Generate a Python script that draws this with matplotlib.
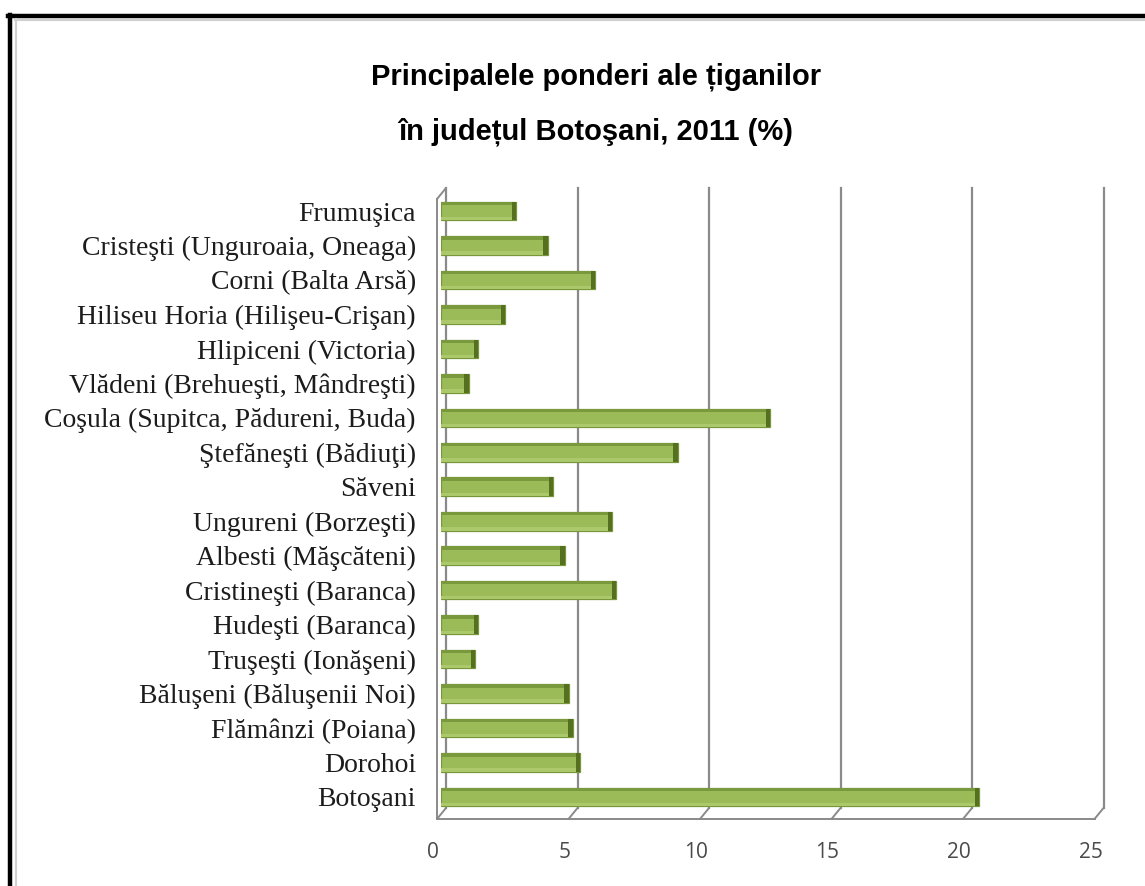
import matplotlib
matplotlib.use("Agg")
import matplotlib.pyplot as plt
from matplotlib import transforms
from matplotlib.lines import Line2D

# ---- data (top to bottom as shown) ----
categories = [
    "Frumuşica",
    "Cristeşti (Unguroaia, Oneaga)",
    "Corni (Balta Arsă)",
    "Hiliseu Horia (Hilişeu-Crişan)",
    "Hlipiceni (Victoria)",
    "Vlădeni (Brehueşti, Mândreşti)",
    "Coşula (Supitca, Pădureni, Buda)",
    "Ştefăneşti (Bădiuţi)",
    "Săveni",
    "Ungureni (Borzeşti)",
    "Albesti (Măşcăteni)",
    "Cristineşti (Baranca)",
    "Hudeşti (Baranca)",
    "Truşeşti (Ionăşeni)",
    "Băluşeni (Băluşenii Noi)",
    "Flămânzi (Poiana)",
    "Dorohoi",
    "Botoşani",
]
values = [2.85, 4.05, 5.85, 2.45, 1.42, 1.05, 12.5, 9.0, 4.25, 6.5,
          4.7, 6.65, 1.42, 1.3, 4.85, 5.0, 5.3, 20.45]
xticks = [0, 5, 10, 15, 20, 25]
title_lines = ["Principalele ponderi ale țiganilor", "în județul Botoşani, 2011 (%)"]

W, H = 1145, 886
fig = plt.figure(figsize=(W / 100, H / 100), dpi=100)
fig.patch.set_facecolor("white")

def fx(px):
    return px / W

def fy(py):
    return 1 - py / H

# frame (only left and top edges visible)
fig.add_artist(Line2D([fx(10), fx(10)], [fy(15), fy(H + 5)], color="black", lw=3.2))
fig.add_artist(Line2D([fx(8), fx(W + 5)], [fy(15.5), fy(15.5)], color="black", lw=3.2))
fig.add_artist(Line2D([fx(15.5), fx(15.5)], [fy(19), fy(H + 5)], color="#d0d0d0", lw=1.5))
fig.add_artist(Line2D([fx(15), fx(W + 5)], [fy(19.5), fy(19.5)], color="#d0d0d0", lw=1.5))

# title
for ln, ypx in zip(title_lines, [77, 132]):
    fig.text(fx(596), fy(ypx), ln, ha="center", va="center", fontsize=21,
             fontweight="bold", family=["Liberation Sans", "DejaVu Sans"], color="black")

# axes: x data 0 at bar start (441 px), floor back at 808, top at 188
left_px, right_px = 441, 441 + 26.3 * 25
top_px, bot_px = 188, 808
ax = fig.add_axes([fx(left_px), fy(bot_px), fx(right_px) - fx(left_px),
                   (bot_px - top_px) / H])
n = len(categories)
ypos = list(range(n - 1, -1, -1))
ylo, yhi = -0.32, (n - 1) + 0.67
ax.set_xlim(0, 25)
ax.set_ylim(ylo, yhi)
ax.patch.set_alpha(0)
for s in ax.spines.values():
    s.set_visible(False)
ax.set_xticks([])

back = ax.transData + transforms.ScaledTranslation(5 / 100, 0, fig.dpi_scale_trans)
front = ax.transData + transforms.ScaledTranslation(-4 / 100, -11 / 100, fig.dpi_scale_trans)
gcol = "#8a8a8a"

# back gridlines / walls
for g in xticks:
    ax.plot([g, g], [ylo, yhi], color=gcol, lw=1.6, transform=back, clip_on=False, zorder=1)
# left wall front edge
ax.plot([0, 0], [ylo, yhi], color=gcol, lw=1.4, transform=front, clip_on=False, zorder=1)
# floor front line
ax.plot([0, 25], [ylo, ylo], color=gcol, lw=1.4, transform=front, clip_on=False, zorder=1)
# slanted connectors (floor depth + top-left corner)
for g in xticks:
    ax.annotate("", xy=(g, ylo), xycoords=front, xytext=(g, ylo), textcoords=back,
                arrowprops=dict(arrowstyle="-", color=gcol, lw=1.4, shrinkA=0, shrinkB=0))
ax.annotate("", xy=(0, yhi), xycoords=front, xytext=(0, yhi), textcoords=back,
            arrowprops=dict(arrowstyle="-", color=gcol, lw=1.4, shrinkA=0, shrinkB=0))

# bars with a 3D-ish look
h = 0.54
cap = 0.16
for y, v in zip(ypos, values):
    ax.barh(y, v, height=h, left=0, color="#9bbb59", edgecolor="#78963a", lw=0.9, zorder=3)
    ax.barh(y + h / 2 - 0.05, v, height=0.1, left=0, color="#7a983c", lw=0, zorder=4)
    ax.barh(y - h / 2 + 0.05, v, height=0.1, left=0, color="#abc96b", lw=0, zorder=4)
    ax.barh(y, cap, height=h, left=v - cap, color="#55701f", lw=0, zorder=5)

# category labels
ax.set_yticks(ypos)
ax.set_yticklabels(categories, family="Liberation Serif", fontsize=20, color="#1c1c1c")
ax.tick_params(axis="y", length=0, pad=18)

# value axis labels (front plane)
lab_tr = transforms.blended_transform_factory(
    ax.transData + transforms.ScaledTranslation(-8 / 100, 0, fig.dpi_scale_trans),
    fig.transFigure)
for t in xticks:
    ax.text(t, fy(852), str(t), transform=lab_tr, ha="center", va="center",
            fontsize=15, family="Open Sans", color="#4a4a4a", clip_on=False)

fig.savefig("out.png", dpi=100, facecolor="white")
